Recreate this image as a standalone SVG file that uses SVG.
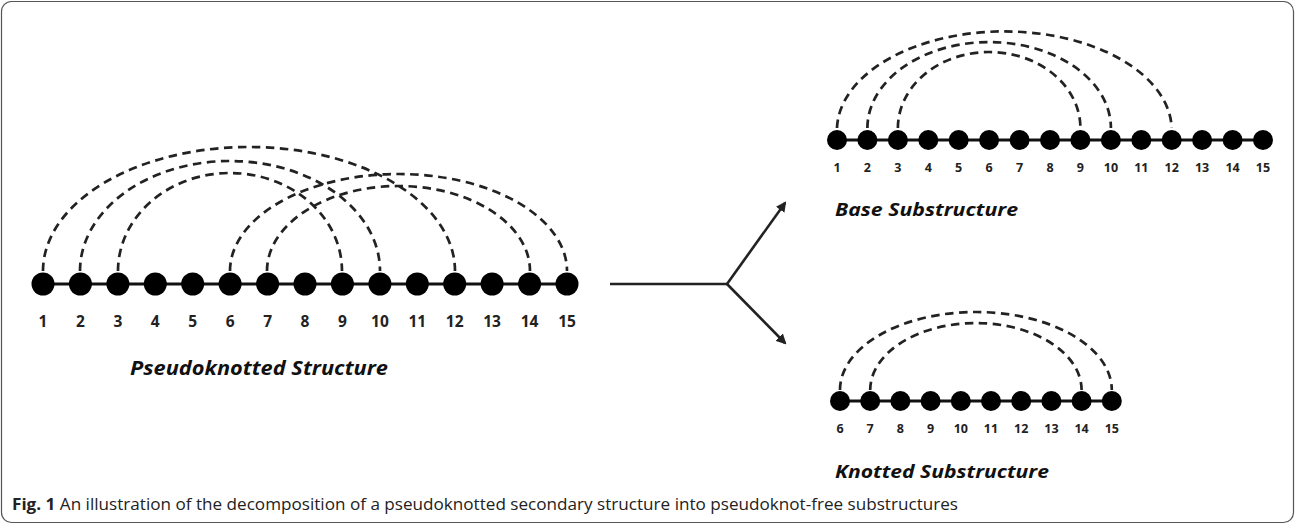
<svg xmlns="http://www.w3.org/2000/svg" width="1295" height="525" viewBox="0 0 1295 525">
<defs>
<style>
.arc{fill:none;stroke:#222;stroke-width:2.7;stroke-dasharray:8.5 5.5}
.bb{stroke:#111;stroke-width:3}
.nd{fill:#000}
.num{font-family:"Open Sans","Liberation Sans",sans-serif;font-weight:bold;fill:#222;text-anchor:middle}
.ttl{font-family:"Open Sans","Liberation Sans",sans-serif;font-weight:bold;font-style:italic;fill:#111}
.cap{font-family:"Open Sans","Liberation Sans",sans-serif;font-size:15.5px;fill:#222}
.conn{fill:none;stroke:#222;stroke-width:2.6}
</style>
<marker id="ah" viewBox="0 0 10 10" refX="8" refY="5" markerWidth="4" markerHeight="4" orient="auto" markerUnits="strokeWidth">
<path d="M0,0 L10,5 L0,10 z" fill="#222"/>
</marker>
</defs>
<rect x="1.5" y="1.5" width="1292" height="521" rx="10" ry="10" fill="#fff" stroke="#555" stroke-width="1.2"/>

<g id="pseudoknotted">
<path class="arc" d="M43,271 A206,124 0 0 1 455,271"/>
<path class="arc" d="M80,271 A150,110 0 0 1 380,271"/>
<path class="arc" d="M118,271 A112,98 0 0 1 342,271"/>
<path class="arc" d="M230,271 A168.5,97 0 0 1 567,271"/>
<path class="arc" d="M267,271 A131.5,85 0 0 1 530,271"/>
<line class="bb" x1="43" y1="284" x2="567" y2="284"/>
<g class="nd">
<circle cx="43" cy="284" r="11.5"/><circle cx="80.4" cy="284" r="11.5"/><circle cx="117.9" cy="284" r="11.5"/><circle cx="155.3" cy="284" r="11.5"/><circle cx="192.7" cy="284" r="11.5"/><circle cx="230.1" cy="284" r="11.5"/><circle cx="267.6" cy="284" r="11.5"/><circle cx="305" cy="284" r="11.5"/><circle cx="342.4" cy="284" r="11.5"/><circle cx="379.9" cy="284" r="11.5"/><circle cx="417.3" cy="284" r="11.5"/><circle cx="454.7" cy="284" r="11.5"/><circle cx="492.1" cy="284" r="11.5"/><circle cx="529.6" cy="284" r="11.5"/><circle cx="567" cy="284" r="11.5"/>
</g>
<g class="num" font-size="15.5">
<text x="43" y="327">1</text><text x="80.4" y="327">2</text><text x="117.9" y="327">3</text><text x="155.3" y="327">4</text><text x="192.7" y="327">5</text><text x="230.1" y="327">6</text><text x="267.6" y="327">7</text><text x="305" y="327">8</text><text x="342.4" y="327">9</text><text x="379.9" y="327">10</text><text x="417.3" y="327">11</text><text x="454.7" y="327">12</text><text x="492.1" y="327">13</text><text x="529.6" y="327">14</text><text x="567" y="327">15</text>
</g>
<text class="ttl" x="130" y="375" font-size="19.5" textLength="258" lengthAdjust="spacingAndGlyphs">Pseudoknotted Structure</text>
</g>

<g id="base">
<path class="arc" d="M837,128 A167.4,99 0 0 1 1171.7,128"/>
<path class="arc" d="M867.4,128 A121.75,86 0 0 1 1110.9,128"/>
<path class="arc" d="M897.9,128 A91.25,76 0 0 1 1080.4,128"/>
<line class="bb" x1="837" y1="140" x2="1263" y2="140"/>
<g class="nd">
<circle cx="837" cy="140" r="10"/><circle cx="867.4" cy="140" r="10"/><circle cx="897.9" cy="140" r="10"/><circle cx="928.3" cy="140" r="10"/><circle cx="958.7" cy="140" r="10"/><circle cx="989.1" cy="140" r="10"/><circle cx="1019.6" cy="140" r="10"/><circle cx="1050" cy="140" r="10"/><circle cx="1080.4" cy="140" r="10"/><circle cx="1110.9" cy="140" r="10"/><circle cx="1141.3" cy="140" r="10"/><circle cx="1171.7" cy="140" r="10"/><circle cx="1202.1" cy="140" r="10"/><circle cx="1232.6" cy="140" r="10"/><circle cx="1263" cy="140" r="10"/>
</g>
<g class="num" font-size="12.5">
<text x="837" y="172">1</text><text x="867.4" y="172">2</text><text x="897.9" y="172">3</text><text x="928.3" y="172">4</text><text x="958.7" y="172">5</text><text x="989.1" y="172">6</text><text x="1019.6" y="172">7</text><text x="1050" y="172">8</text><text x="1080.4" y="172">9</text><text x="1110.9" y="172">10</text><text x="1141.3" y="172">11</text><text x="1171.7" y="172">12</text><text x="1202.1" y="172">13</text><text x="1232.6" y="172">14</text><text x="1263" y="172">15</text>
</g>
<text class="ttl" x="835" y="216" font-size="17" textLength="183" lengthAdjust="spacingAndGlyphs">Base Substructure</text>
</g>

<g id="knotted">
<path class="arc" d="M840,390 A135.9,78 0 0 1 1111.8,390"/>
<path class="arc" d="M870.2,390 A105.7,67 0 0 1 1081.6,390"/>
<line class="bb" x1="840" y1="401" x2="1111.8" y2="401"/>
<g class="nd">
<circle cx="840" cy="401" r="10"/><circle cx="870.2" cy="401" r="10"/><circle cx="900.4" cy="401" r="10"/><circle cx="930.6" cy="401" r="10"/><circle cx="960.8" cy="401" r="10"/><circle cx="991" cy="401" r="10"/><circle cx="1021.2" cy="401" r="10"/><circle cx="1051.4" cy="401" r="10"/><circle cx="1081.6" cy="401" r="10"/><circle cx="1111.8" cy="401" r="10"/>
</g>
<g class="num" font-size="12.5">
<text x="840" y="433">6</text><text x="870.2" y="433">7</text><text x="900.4" y="433">8</text><text x="930.6" y="433">9</text><text x="960.8" y="433">10</text><text x="991" y="433">11</text><text x="1021.2" y="433">12</text><text x="1051.4" y="433">13</text><text x="1081.6" y="433">14</text><text x="1111.8" y="433">15</text>
</g>
<text class="ttl" x="835" y="478" font-size="17" textLength="214" lengthAdjust="spacingAndGlyphs">Knotted Substructure</text>
</g>

<g id="connectors">
<line class="conn" x1="610" y1="284" x2="727" y2="284"/>
<line class="conn" x1="727" y1="284" x2="785" y2="203" marker-end="url(#ah)"/>
<line class="conn" x1="727" y1="284" x2="785" y2="343" marker-end="url(#ah)"/>
</g>

<text class="cap" x="12" y="510" textLength="946" lengthAdjust="spacingAndGlyphs"><tspan font-weight="bold">Fig. 1</tspan> An illustration of the decomposition of a pseudoknotted secondary structure into pseudoknot-free substructures</text>
</svg>
